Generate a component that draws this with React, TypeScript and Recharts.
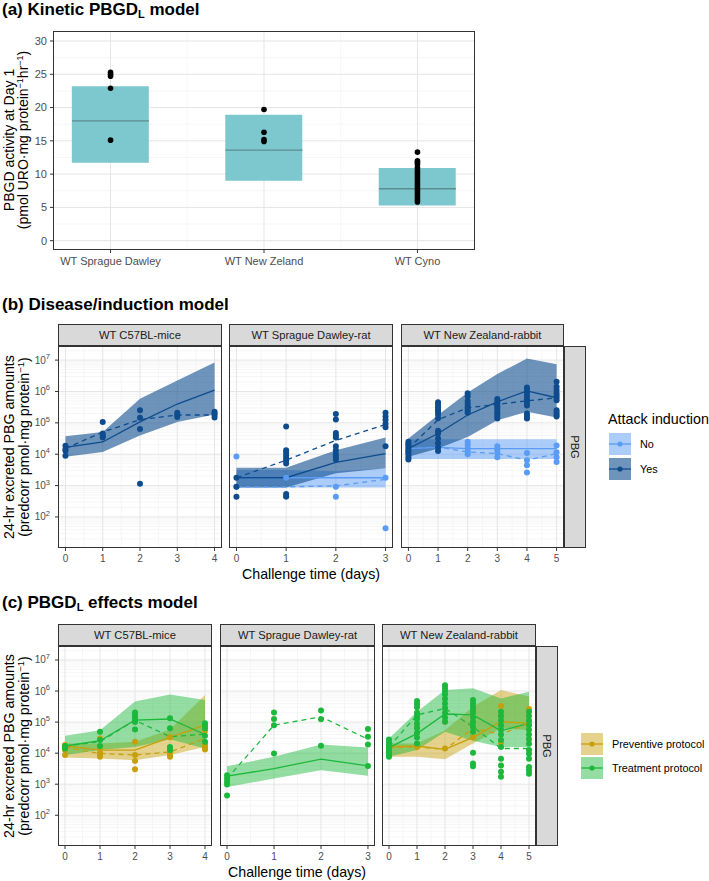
import React from "react";
import {
  ComposedChart,
  Area,
  Bar,
  Line,
  Scatter,
  XAxis,
  YAxis,
  CartesianGrid,
} from "recharts";

const FONT = "'Liberation Sans', Arial, sans-serif";

// ---------- panel (a): PBGD activity at day 1 ----------
const aGroups = ["WT Sprague Dawley", "WT New Zeland", "WT Cyno"];
const aBoxLow = [11.7, 9.0, 5.3];
const aBoxHigh = [23.2, 18.9, 10.9];
const aMedian = [18.0, 13.6, 7.8];
const aPtsSD = [25.3, 25.0, 24.7, 22.9, 15.1];
const aPtsNZ = [19.7, 16.3, 15.2, 14.9];
const aPtsCyno = [
  13.3, 12.0, 11.8, 11.5, 11.0, 10.6, 10.3, 10.0, 9.7, 9.4, 9.1, 8.8, 8.5, 8.2,
  7.9, 7.6, 7.3, 7.0, 6.7, 6.4, 6.1, 5.8,
];
const aTicks = [0, 5, 10, 15, 20, 25, 30];

// ---------- panels (b) and (c): PBG amounts, stored as log10 ----------
const days3 = [0, 1, 2, 3];
const days4 = [0, 1, 2, 3, 4];
const days5 = [0, 1, 2, 3, 4, 5];
const logTicks = [2, 3, 4, 5, 6, 7];

// (b) mice, induction = Yes
const bMiceYesMed = [4.22, 4.39, 5.03, 5.6, 6.04];
const bMiceYesObs = [4.18, 4.71, 5.1, 5.25, 5.25];
const bMiceYesLo = [3.92, 4.07, 4.6, 5.03, 5.27];
const bMiceYesHi = [4.57, 4.71, 5.77, 6.35, 6.92];
const bMiceYesPts = [
  [4.27, 4.16, 4.11, 3.95],
  [5.03, 4.66, 4.59, 4.53],
  [5.4, 5.16, 4.8, 3.06],
  [5.32, 5.25, 5.19],
  [5.35, 5.3, 5.25, 5.17],
];

// (b) rat
const bRatYesMed = [3.25, 3.25, 3.74, 4.02];
const bRatYesObs = [3.25, 3.81, 4.44, 4.95];
const bRatYesLo = [2.94, 2.94, 3.39, 3.55];
const bRatYesHi = [3.57, 3.57, 4.13, 4.53];
const bRatYesPts = [
  [3.25, 2.96, 2.64],
  [4.88, 4.13, 4.05, 3.96, 3.88, 3.8, 3.7, 2.73, 2.65],
  [5.28, 5.11, 4.68, 4.6, 4.53, 4.25, 4.13, 4.0, 3.92, 3.83],
  [5.32, 5.2, 5.1, 4.97, 4.86, 4.25],
];
const bRatNoMed = [3.25, 3.25, 3.25, 3.25];
const bRatNoObs = [2.96, 2.96, 2.99, 3.2];
const bRatNoLo = [2.94, 2.94, 2.94, 2.94];
const bRatNoHi = [3.5, 3.5, 3.46, 3.55];
const bRatNoPts = [
  [3.93, 2.96],
  [3.25, 2.65],
  [2.96, 2.64],
  [3.25, 1.64],
];

// (b) rabbit
const bRabYesMed = [4.18, 4.66, 5.25, 5.67, 6.02, 5.8];
const bRabYesObs = [4.18, 5.1, 5.48, 5.59, 5.7, 5.8];
const bRabYesLo = [3.92, 4.18, 4.55, 5.08, 5.35, 5.17];
const bRabYesHi = [4.5, 5.25, 5.97, 6.56, 7.05, 6.87];
const bRabYesPts = [
  [4.4, 4.33, 4.26, 4.2, 4.13, 4.06, 3.98, 3.9, 3.83],
  [5.66, 5.58, 5.5, 5.42, 5.35, 5.27, 5.15, 4.75, 4.66, 4.5, 4.35, 4.22, 4.1],
  [5.94, 5.85, 5.7, 5.6, 5.52, 5.45, 5.38, 5.32],
  [5.76, 5.68, 5.6, 5.52, 5.45, 5.38, 5.3, 5.22, 5.14],
  [6.13, 6.05, 5.95, 5.85, 5.75, 5.65, 5.55, 5.3, 5.22, 5.14],
  [6.31, 6.15, 6.05, 5.95, 5.88, 5.8, 5.72, 5.4, 5.33, 5.26, 5.2],
];
const bRabNoMed = [4.18, 4.22, 4.18, 4.18, 4.18, 4.18];
const bRabNoObs = [4.18, 4.23, 4.07, 4.02, 3.81, 4.02];
const bRabNoLo = [3.85, 3.85, 3.85, 3.85, 3.85, 3.85];
const bRabNoHi = [4.48, 4.48, 4.48, 4.48, 4.48, 4.48];
const bRabNoPts = [
  [4.3, 4.15, 4.05],
  [4.25, 4.2],
  [4.4, 4.3, 4.2, 4.1, 4.0],
  [4.25, 4.15, 4.05, 3.9],
  [4.04, 3.81, 3.65, 3.42],
  [4.28, 4.06, 3.9, 3.75],
];

// (c) mice
const cMiceTrtMed = [4.23, 4.4, 5.06, 5.1, 4.6];
const cMiceTrtObs = [4.23, 4.37, 5.06, 4.53, 4.61];
const cMiceTrtLo = [3.94, 4.1, 4.2, 4.45, 4.15];
const cMiceTrtHi = [4.56, 4.74, 5.66, 5.89, 5.71];
const cMiceTrtPts = [
  [4.23, 4.15],
  [4.69, 4.42, 4.23],
  [5.31, 5.22, 5.15, 5.06, 5.0, 4.76],
  [5.12, 4.8, 4.2, 4.1],
  [4.96, 4.88, 4.8, 4.56, 4.37],
];
const cMicePrvMed = [4.23, 4.1, 4.1, 4.51, 4.9];
const cMicePrvObs = [4.18, 3.99, 3.94, 4.04, 4.47];
const cMicePrvLo = [3.86, 3.83, 3.77, 3.94, 4.2];
const cMicePrvHi = [4.31, 4.31, 4.37, 4.76, 5.87];
const cMicePrvPts = [
  [4.26, 4.18, 4.1, 3.94],
  [4.47, 4.2, 4.01, 3.94, 3.88],
  [4.37, 3.94, 3.75, 3.48],
  [4.51, 4.1, 4.03, 3.94, 3.88],
  [4.71, 4.29, 4.2, 4.12],
];

// (c) rat, treatment only
const cRatTrtMed = [3.26, 3.5, 3.81, 3.59];
const cRatTrtObs = [3.18, 4.9, 5.17, 4.45];
const cRatTrtLo = [2.91, 3.18, 3.45, 3.27];
const cRatTrtHi = [3.58, 3.88, 4.28, 4.18];
const cRatTrtPts = [
  [3.29, 3.18, 3.08, 2.99, 2.64],
  [5.31, 5.1, 4.9, 3.99],
  [5.37, 5.09, 4.24],
  [4.78, 4.53, 4.28, 3.59],
];

// (c) rabbit
const cRabTrtMed = [4.18, 4.63, 5.26, 5.23, 4.72, 4.96];
const cRabTrtObs = [4.2, 5.23, 5.44, 4.85, 4.15, 4.15];
const cRabTrtLo = [3.88, 4.1, 4.69, 4.4, 4.2, 4.2];
const cRabTrtHi = [4.47, 5.33, 6.03, 6.09, 5.76, 5.98];
const cRabTrtPts = [
  [4.44, 4.35, 4.27, 4.18, 4.1, 4.02, 3.94, 3.88],
  [5.68, 5.58, 5.48, 5.3, 5.2, 5.1, 4.95, 4.8, 4.65, 4.5, 4.31],
  [6.19, 6.1, 6.0, 5.9, 5.75, 5.6, 5.45, 5.3, 5.15, 5.01],
  [5.71, 5.6, 5.5, 5.4, 5.3, 5.15, 5.0, 4.85, 4.69, 4.01, 3.67, 3.58],
  [5.33, 5.2, 5.05, 4.9, 4.75, 4.6, 4.42, 4.2, 3.82, 3.6, 3.4, 3.24],
  [5.33, 5.2, 5.05, 4.9, 4.75, 4.6, 4.45, 4.3, 4.1, 3.98, 3.82, 3.55, 3.45, 3.34],
];
const cRabPrvMed = [4.2, 4.23, 4.12, 4.51, 5.01, 4.96];
const cRabPrvObs = [4.18, 4.2, 4.12, 4.8, 4.61, 4.96];
const cRabPrvLo = [3.88, 3.88, 3.8, 4.31, 4.8, 4.74];
const cRabPrvHi = [4.31, 4.31, 4.74, 5.49, 6.03, 5.82];
const cRabPrvPts = [
  [4.3, 4.2, 4.1],
  [4.83, 4.2],
  [5.01, 4.15],
  [4.51],
  [5.52, 4.33],
  [5.42, 4.96],
];

const YES = "#0E4C8E";
const NO = "#5A9BF3";
const PRV = "#C79F0B";
const TRT = "#1CB83C";

type Series = {
  key: string;
  color: string;
  alpha: number;
  med: number[];
  obs: number[];
  lo: number[];
  hi: number[];
  pts: number[][];
};

const mk = (key: string, color: string, alpha: number, med: number[], obs: number[], lo: number[], hi: number[], pts: number[][]): Series => ({ key, color, alpha, med, obs, lo, hi, pts });

// grid helpers (minor log lines at 2..9 x 10^n)
const LOG_MINOR: number[] = [];
for (let n = 1; n <= 7; n++) {
  for (let k = 2; k <= 9; k++) {
    const v = Math.log10(k * Math.pow(10, n));
    if (v < 7.45) LOG_MINOR.push(v);
  }
}

function PowTick(props: any) {
  const { x, y, payload } = props;
  return (
    <text x={x} y={y + 3.5} textAnchor="end" fill="#4d4d4d" fontSize={10} fontFamily={FONT}>
      10
      <tspan dy={-4.5} fontSize={7.5}>
        {payload.value}
      </tspan>
    </text>
  );
}

function Facet({ left, top, w, h, days, showY, series }: { left: number; top: number; w: number; h: number; days: number[]; showY: boolean; series: Series[] }) {
  const n = days[days.length - 1];
  const pad = n * 0.05;
  const yW = showY ? 58 : 0;
  const rows = days.map((d, i) => {
    const r: any = { x: d };
    series.forEach((s) => {
      r[s.key + "Band"] = [s.lo[i], s.hi[i]];
      r[s.key + "Med"] = s.med[i];
      r[s.key + "Obs"] = s.obs[i];
    });
    return r;
  });
  const minorX = days.slice(1).map((d) => d - 0.5);
  return (
    <div style={{ position: "absolute", left: left - yW, top }}>
      <ComposedChart width={w + yW} height={h + 24} data={rows} margin={{ top: 0, right: 0, bottom: 0, left: 0 }}>
        <CartesianGrid horizontalValues={LOG_MINOR} verticalValues={minorX} stroke="#f2f2f2" strokeWidth={0.7} />
        <CartesianGrid horizontalValues={logTicks} verticalValues={days} stroke="#e5e5e5" />
        <XAxis
          type="number"
          dataKey="x"
          domain={[-pad, n + pad]}
          ticks={days}
          interval={0}
          allowDataOverflow
          axisLine={false}
          tickLine={{ stroke: "#333" }}
          tickSize={3}
          tickMargin={4}
          height={24}
          tick={{ fontSize: 10, fill: "#4d4d4d", fontFamily: FONT }}
        />
        <YAxis
          type="number"
          domain={[1.01, 7.45]}
          ticks={logTicks}
          interval={0}
          allowDataOverflow
          hide={!showY}
          width={yW}
          axisLine={false}
          tickLine={{ stroke: "#333" }}
          tickSize={3}
          tickMargin={5}
          tick={<PowTick />}
        />
        {series.map((s) => (
          <Area key={s.key + "b"} dataKey={s.key + "Band"} stroke="none" fill={s.color} fillOpacity={s.alpha} isAnimationActive={false} />
        ))}
        {series.map((s) => (
          <Line key={s.key + "m"} dataKey={s.key + "Med"} stroke={s.color} strokeWidth={1.3} dot={false} isAnimationActive={false} />
        ))}
        {series.map((s) => (
          <Line key={s.key + "o"} dataKey={s.key + "Obs"} stroke={s.color} strokeWidth={1.3} strokeDasharray="5 4" dot={false} isAnimationActive={false} />
        ))}
        {series.map((s) => (
          <Scatter
            key={s.key + "p"}
            dataKey="y"
            data={s.pts.flatMap((col, i) => col.map((v) => ({ x: days[i], y: v })))}
            fill={s.color}
            shape={(p: any) => <circle cx={p.cx} cy={p.cy} r={3} fill={s.color} />}
            isAnimationActive={false}
          />
        ))}
      </ComposedChart>
    </div>
  );
}

function PanelA() {
  const rows = aGroups.map((g, i) => ({ x: i + 1, box: [aBoxLow[i], aBoxHigh[i]], med: aMedian[i] }));
  const pts = [aPtsSD, aPtsNZ, aPtsCyno].flatMap((col, i) => col.map((v) => ({ x: i + 1, y: v })));
  return (
    <div style={{ position: "absolute", left: 0, top: 31 }}>
      <ComposedChart width={475} height={243} data={rows} margin={{ top: 0, right: 0, bottom: 0, left: 0 }}>
        <CartesianGrid horizontalValues={[2.5, 7.5, 12.5, 17.5, 22.5, 27.5]} verticalValues={[1.5, 2.5]} stroke="#f2f2f2" strokeWidth={0.7} />
        <CartesianGrid horizontalValues={aTicks} verticalValues={[1, 2, 3]} stroke="#e5e5e5" />
        <XAxis
          type="number"
          dataKey="x"
          domain={[0.625, 3.375]}
          ticks={[1, 2, 3]}
          interval={0}
          allowDataOverflow
          axisLine={false}
          tickLine={{ stroke: "#333" }}
          tickSize={3}
          tickMargin={4}
          height={24}
          tickFormatter={(v: number) => aGroups[v - 1]}
          tick={{ fontSize: 11, fill: "#4d4d4d", fontFamily: FONT }}
        />
        <YAxis
          type="number"
          domain={[-1.4, 31.5]}
          ticks={aTicks}
          interval={0}
          allowDataOverflow
          width={53}
          axisLine={false}
          tickLine={{ stroke: "#333" }}
          tickSize={3}
          tickMargin={3}
          tick={{ fontSize: 11, fill: "#4d4d4d", fontFamily: FONT }}
        />
        <Bar dataKey="box" fill="#7CC8CE" barSize={77} isAnimationActive={false} />
        <Scatter
          dataKey="med"
          data={rows}
          shape={(p: any) => <line x1={p.cx - 38.5} x2={p.cx + 38.5} y1={p.cy} y2={p.cy} stroke="#5E8C90" strokeWidth={1.4} />}
          isAnimationActive={false}
        />
        <Scatter
          dataKey="y"
          data={pts}
          shape={(p: any) => <circle cx={p.cx} cy={p.cy} r={2.8} fill="#000" />}
          isAnimationActive={false}
        />
      </ComposedChart>
    </div>
  );
}

const bFacets = [
  { left: 58, w: 164, days: days4, name: "WT C57BL-mice", series: [mk("yes", YES, 0.6, bMiceYesMed, bMiceYesObs, bMiceYesLo, bMiceYesHi, bMiceYesPts)] },
  {
    left: 229,
    w: 164,
    days: days3,
    name: "WT Sprague Dawley-rat",
    series: [
      mk("no", NO, 0.5, bRatNoMed, bRatNoObs, bRatNoLo, bRatNoHi, bRatNoPts),
      mk("yes", YES, 0.6, bRatYesMed, bRatYesObs, bRatYesLo, bRatYesHi, bRatYesPts),
    ],
  },
  {
    left: 401,
    w: 163,
    days: days5,
    name: "WT New Zealand-rabbit",
    series: [
      mk("no", NO, 0.5, bRabNoMed, bRabNoObs, bRabNoLo, bRabNoHi, bRabNoPts),
      mk("yes", YES, 0.6, bRabYesMed, bRabYesObs, bRabYesLo, bRabYesHi, bRabYesPts),
    ],
  },
];

const cFacets = [
  {
    left: 58,
    w: 154,
    days: days4,
    name: "WT C57BL-mice",
    series: [
      mk("prv", PRV, 0.47, cMicePrvMed, cMicePrvObs, cMicePrvLo, cMicePrvHi, cMicePrvPts),
      mk("trt", TRT, 0.47, cMiceTrtMed, cMiceTrtObs, cMiceTrtLo, cMiceTrtHi, cMiceTrtPts),
    ],
  },
  { left: 220, w: 155, days: days3, name: "WT Sprague Dawley-rat", series: [mk("trt", TRT, 0.47, cRatTrtMed, cRatTrtObs, cRatTrtLo, cRatTrtHi, cRatTrtPts)] },
  {
    left: 382,
    w: 154,
    days: days5,
    name: "WT New Zealand-rabbit",
    series: [
      mk("prv", PRV, 0.47, cRabPrvMed, cRabPrvObs, cRabPrvLo, cRabPrvHi, cRabPrvPts),
      mk("trt", TRT, 0.47, cRabTrtMed, cRabTrtObs, cRabTrtLo, cRabTrtHi, cRabTrtPts),
    ],
  },
];

const B_TOP = 346;
const B_H = 202;
const C_TOP = 646;
const C_H = 200;

function Strips({ facets, top, h }: { facets: typeof bFacets; top: number; h: number }) {
  const last = facets[facets.length - 1];
  const rx = last.left + last.w;
  return (
    <g>
      {facets.map((f) => (
        <g key={f.name}>
          <rect x={f.left + 0.5} y={top - 21.5} width={f.w - 1} height={21} fill="#d9d9d9" stroke="#333" />
          <text x={f.left + f.w / 2} y={top - 7} textAnchor="middle" fontSize={11.2} fill="#1a1a1a">
            {f.name}
          </text>
          <rect x={f.left + 0.5} y={top + 0.5} width={f.w - 1} height={h - 1} fill="none" stroke="#333" />
        </g>
      ))}
      <rect x={rx + 0.5} y={top + 0.5} width={21} height={h - 1} fill="#d9d9d9" stroke="#333" />
      <text transform={`translate(${rx + 11},${top + h / 2}) rotate(90)`} textAnchor="middle" dominantBaseline="central" fontSize={11.2} fill="#1a1a1a">
        PBG
      </text>
    </g>
  );
}

function YTitle({ cy }: { cy: number }) {
  return (
    <g fontSize={14.2} fill="#000">
      <text transform={`translate(14,${cy}) rotate(-90)`} textAnchor="middle">
        24-hr excreted PBG amounts
      </text>
      <text transform={`translate(29,${cy}) rotate(-90)`} textAnchor="middle">
        (predcorr pmol·mg protein
        <tspan dy={-5} fontSize={9.5}>
          −1
        </tspan>
        <tspan dy={5}>)</tspan>
      </text>
    </g>
  );
}

function Key({ x, y, color, alpha, label }: { x: number; y: number; color: string; alpha: number; label: string }) {
  return (
    <g>
      <rect x={x} y={y} width={22} height={22} fill={color} fillOpacity={alpha} />
      <line x1={x} x2={x + 22} y1={y + 11} y2={y + 11} stroke={color} strokeWidth={1.3} />
      <circle cx={x + 11} cy={y + 11} r={2.6} fill={color} />
      <text x={x + 31} y={y + 15} fontSize={10.8} fill="#000">
        {label}
      </text>
    </g>
  );
}

export default function App() {
  return (
    <div style={{ position: "absolute", left: 0, top: 0, width: 709, height: 881, background: "#fff", overflow: "hidden", fontFamily: FONT }}>
      <PanelA />
      {bFacets.map((f, i) => (
        <Facet key={"b" + i} left={f.left} top={B_TOP} w={f.w} h={B_H} days={f.days} showY={i === 0} series={f.series} />
      ))}
      {cFacets.map((f, i) => (
        <Facet key={"c" + i} left={f.left} top={C_TOP} w={f.w} h={C_H} days={f.days} showY={i === 0} series={f.series} />
      ))}
      <svg width={709} height={881} style={{ position: "absolute", left: 0, top: 0, pointerEvents: "none" }} fontFamily={FONT}>
        {/* panel (a) */}
        <text x={2} y={15} fontSize={17} fontWeight="bold">
          (a) Kinetic PBGD
          <tspan fontSize={11} dy={3}>
            L
          </tspan>
          <tspan dy={-3}> model</tspan>
        </text>
        <rect x={53.5} y={31.5} width={421} height={218} fill="none" stroke="#333" />
        <g fontSize={14} fill="#000">
          <text transform="translate(14,140) rotate(-90)" textAnchor="middle">
            PBGD activity at Day 1
          </text>
          <text transform="translate(28,140) rotate(-90)" textAnchor="middle">
            (pmol URO·mg protein
            <tspan dy={-5} fontSize={9}>
              −1
            </tspan>
            <tspan dy={5}>hr</tspan>
            <tspan dy={-5} fontSize={9}>
              −1
            </tspan>
            <tspan dy={5}>)</tspan>
          </text>
        </g>

        {/* panel (b) */}
        <text x={2} y={310} fontSize={17} fontWeight="bold">
          (b) Disease/induction model
        </text>
        <Strips facets={bFacets} top={B_TOP} h={B_H} />
        <YTitle cy={B_TOP + B_H / 2} />
        <text x={311} y={579} textAnchor="middle" fontSize={14.2}>
          Challenge time (days)
        </text>
        <text x={608} y={424} fontSize={14.3}>
          Attack induction
        </text>
        <Key x={609} y={433} color={NO} alpha={0.5} label="No" />
        <Key x={609} y={458} color={YES} alpha={0.6} label="Yes" />

        {/* panel (c) */}
        <text x={2} y={608} fontSize={17} fontWeight="bold">
          (c) PBGD
          <tspan fontSize={11} dy={3}>
            L
          </tspan>
          <tspan dy={-3}> effects model</tspan>
        </text>
        <Strips facets={cFacets} top={C_TOP} h={C_H} />
        <YTitle cy={C_TOP + C_H / 2} />
        <text x={297} y={877} textAnchor="middle" fontSize={14.2}>
          Challenge time (days)
        </text>
        <Key x={581} y={733} color={PRV} alpha={0.47} label="Preventive protocol" />
        <Key x={581} y={757} color={TRT} alpha={0.47} label="Treatment protocol" />
      </svg>
    </div>
  );
}
